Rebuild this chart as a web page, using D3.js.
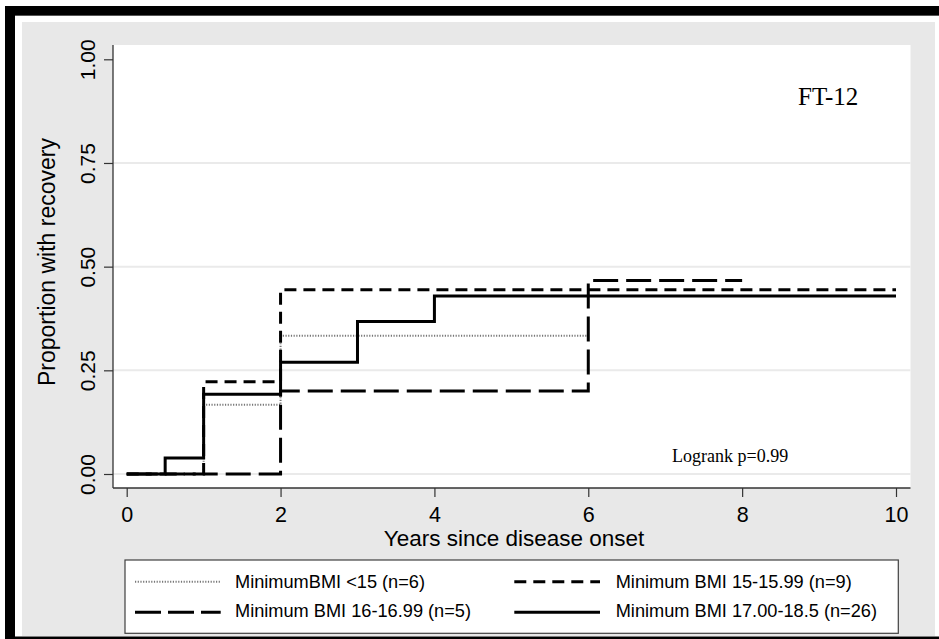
<!DOCTYPE html>
<html>
<head>
<meta charset="utf-8">
<script src="https://cdn.jsdelivr.net/npm/d3@7"></script>
<style>
  html, body { margin: 0; padding: 0; background: #fff; }
  svg { display: block; }
</style>
</head>
<body>
<svg id="chart" width="939" height="639"></svg>
<script>
// ---- data ----
const seriesNames = [
  "MinimumBMI <15 (n=6)",
  "Minimum BMI 15-15.99 (n=9)",
  "Minimum BMI 16-16.99 (n=5)",
  "Minimum BMI 17.00-18.5 (n=26)"
];
const timesA  = [0, 1, 2, 6];
const valuesA = [0, 0.1667, 0.3333, 0.3333];
const timesB  = [0, 1, 2, 10];
const valuesB = [0, 0.2222, 0.4444, 0.4444];
const timesC  = [0, 2, 6, 8];
const valuesC = [0, 0.2, 0.4667, 0.4667];
const timesD  = [0, 0.5, 1, 2, 3, 4, 10];
const valuesD = [0, 0.0385, 0.1923, 0.2692, 0.3675, 0.4295, 0.4295];
const xTicks = [0, 2, 4, 6, 8, 10];
const yTicks = [0, 0.25, 0.5, 0.75, 1];
const yGrid  = [0, 0.25, 0.5, 0.75];
const xTitle = "Years since disease onset";
const yTitle = "Proportion with recovery";
const panelLabel = "FT-12";
const testLabel = "Logrank p=0.99";

// ---- styles ----
const styles = [
  { stroke: "#777", width: 2, dash: "1.2,1.5" },
  { stroke: "#000", width: 3, dash: "12,7" },
  { stroke: "#000", width: 3, dash: "25,8" },
  { stroke: "#000", width: 3, dash: null }
];
const legendDash = ["1.2,1.5", "12,7", "26,7", null];

const svg = d3.select("#chart");
const sans = "'Liberation Sans', Arial, Helvetica, sans-serif";
const serif = "'Liberation Serif', 'Times New Roman', serif";

// frame
svg.append("rect").attr("x", 0).attr("y", 0).attr("width", 939).attr("height", 639).attr("fill", "#fff");
svg.append("rect").attr("x", 22).attr("y", 22).attr("width", 913).attr("height", 614).attr("fill", "#e8e8e8");
svg.append("rect").attr("x", 5).attr("y", 6).attr("width", 934).attr("height", 9).attr("fill", "#000");
svg.append("rect").attr("x", 5).attr("y", 6).attr("width", 10).attr("height", 633).attr("fill", "#000");
svg.append("rect").attr("x", 5).attr("y", 636.5).attr("width", 934).attr("height", 3).attr("fill", "#000");
svg.append("rect").attr("x", 15).attr("y", 15).attr("width", 924).attr("height", 1).attr("fill", "#555");

// plot region
const plot = { left: 113, top: 45, right: 910.5, bottom: 488 };
svg.append("rect").attr("x", plot.left).attr("y", plot.top)
  .attr("width", plot.right - plot.left).attr("height", plot.bottom - plot.top).attr("fill", "#fff");

const x = d3.scaleLinear().domain([0, 10]).range([126.7, 896]);
const y = d3.scaleLinear().domain([0, 1]).range([474, 59.3]);

// grid
svg.append("g").selectAll("line").data(yGrid).join("line")
  .attr("x1", plot.left).attr("x2", plot.right)
  .attr("y1", d => y(d)).attr("y2", d => y(d))
  .attr("stroke", "#eaeaea").attr("stroke-width", 2);

// axes
const yAxis = svg.append("g").attr("transform", `translate(${plot.left},0)`)
  .call(d3.axisLeft(y).tickValues(yTicks).tickFormat(d3.format(".2f")).tickSize(9).tickSizeOuter(0));
yAxis.select(".domain").remove();
yAxis.selectAll(".tick line").attr("stroke", "#333").attr("stroke-width", 1.2);
yAxis.selectAll(".tick text")
  .attr("x", null).attr("dy", null)
  .attr("transform", "translate(-18,0) rotate(-90)")
  .attr("text-anchor", "middle")
  .attr("font-family", sans).attr("font-size", 21).attr("fill", "#000");

const xAxis = svg.append("g").attr("transform", `translate(0,${plot.bottom})`)
  .call(d3.axisBottom(x).tickValues(xTicks).tickSize(9).tickSizeOuter(0));
xAxis.select(".domain").remove();
xAxis.selectAll(".tick line").attr("stroke", "#333").attr("stroke-width", 1.2);
xAxis.selectAll(".tick text")
  .attr("y", 33.5).attr("dy", null)
  .attr("font-family", sans).attr("font-size", 21.5).attr("fill", "#000");

// axis lines
svg.append("line").attr("x1", plot.left).attr("x2", plot.left).attr("y1", plot.top).attr("y2", plot.bottom)
  .attr("stroke", "#333").attr("stroke-width", 1.3);
svg.append("line").attr("x1", plot.left).attr("x2", plot.right).attr("y1", plot.bottom).attr("y2", plot.bottom)
  .attr("stroke", "#333").attr("stroke-width", 1.3);

// titles
svg.append("text").attr("x", 514).attr("y", 546).attr("text-anchor", "middle")
  .attr("font-family", sans).attr("font-size", 22.5).attr("fill", "#000").text(xTitle);
svg.append("text").attr("transform", "translate(55,262) rotate(-90)").attr("text-anchor", "middle")
  .attr("font-family", sans).attr("font-size", 23).attr("fill", "#000").text(yTitle);

// series
const allTimes = [timesA, timesB, timesC, timesD];
const allValues = [valuesA, valuesB, valuesC, valuesD];
const line = d3.line().x(d => x(d[0])).y(d => y(d[1])).curve(d3.curveStepAfter);
allTimes.forEach((ts, i) => {
  const pts = ts.map((t, j) => [t, allValues[i][j]]);
  const p = svg.append("path").attr("d", line(pts)).attr("fill", "none")
    .attr("stroke", styles[i].stroke).attr("stroke-width", styles[i].width)
    .attr("stroke-linejoin", "miter").attr("stroke-linecap", "butt");
  if (styles[i].dash) p.attr("stroke-dasharray", styles[i].dash);
});

// annotations
svg.append("text").attr("x", 798).attr("y", 105).attr("font-family", serif)
  .attr("font-size", 25).attr("fill", "#000").text(panelLabel);
svg.append("text").attr("x", 672).attr("y", 461.5).attr("font-family", serif)
  .attr("font-size", 18).attr("fill", "#000").text(testLabel);

// legend
const lg = svg.append("g");
lg.append("rect").attr("x", 125).attr("y", 560).attr("width", 773.3).attr("height", 73.3)
  .attr("fill", "#fff").attr("stroke", "#404040").attr("stroke-width", 1.2);
const legendPos = [
  { x1: 135, x2: 220.7, tx: 235, ly: 581.7, ty: 588.3 },
  { x1: 514.3, x2: 600, tx: 615.7, ly: 581.7, ty: 588.3 },
  { x1: 135, x2: 220.7, tx: 235, ly: 612.3, ty: 617 },
  { x1: 514.3, x2: 600, tx: 615.7, ly: 612.3, ty: 617 }
];
seriesNames.forEach((name, i) => {
  const p = legendPos[i];
  const l = lg.append("line").attr("x1", p.x1).attr("x2", p.x2).attr("y1", p.ly).attr("y2", p.ly)
    .attr("stroke", styles[i].stroke).attr("stroke-width", styles[i].width);
  if (legendDash[i]) l.attr("stroke-dasharray", legendDash[i]);
  lg.append("text").attr("x", p.tx).attr("y", p.ty).attr("font-family", sans)
    .attr("font-size", 18.2).attr("fill", "#000").text(name);
});
</script>
</body>
</html>
